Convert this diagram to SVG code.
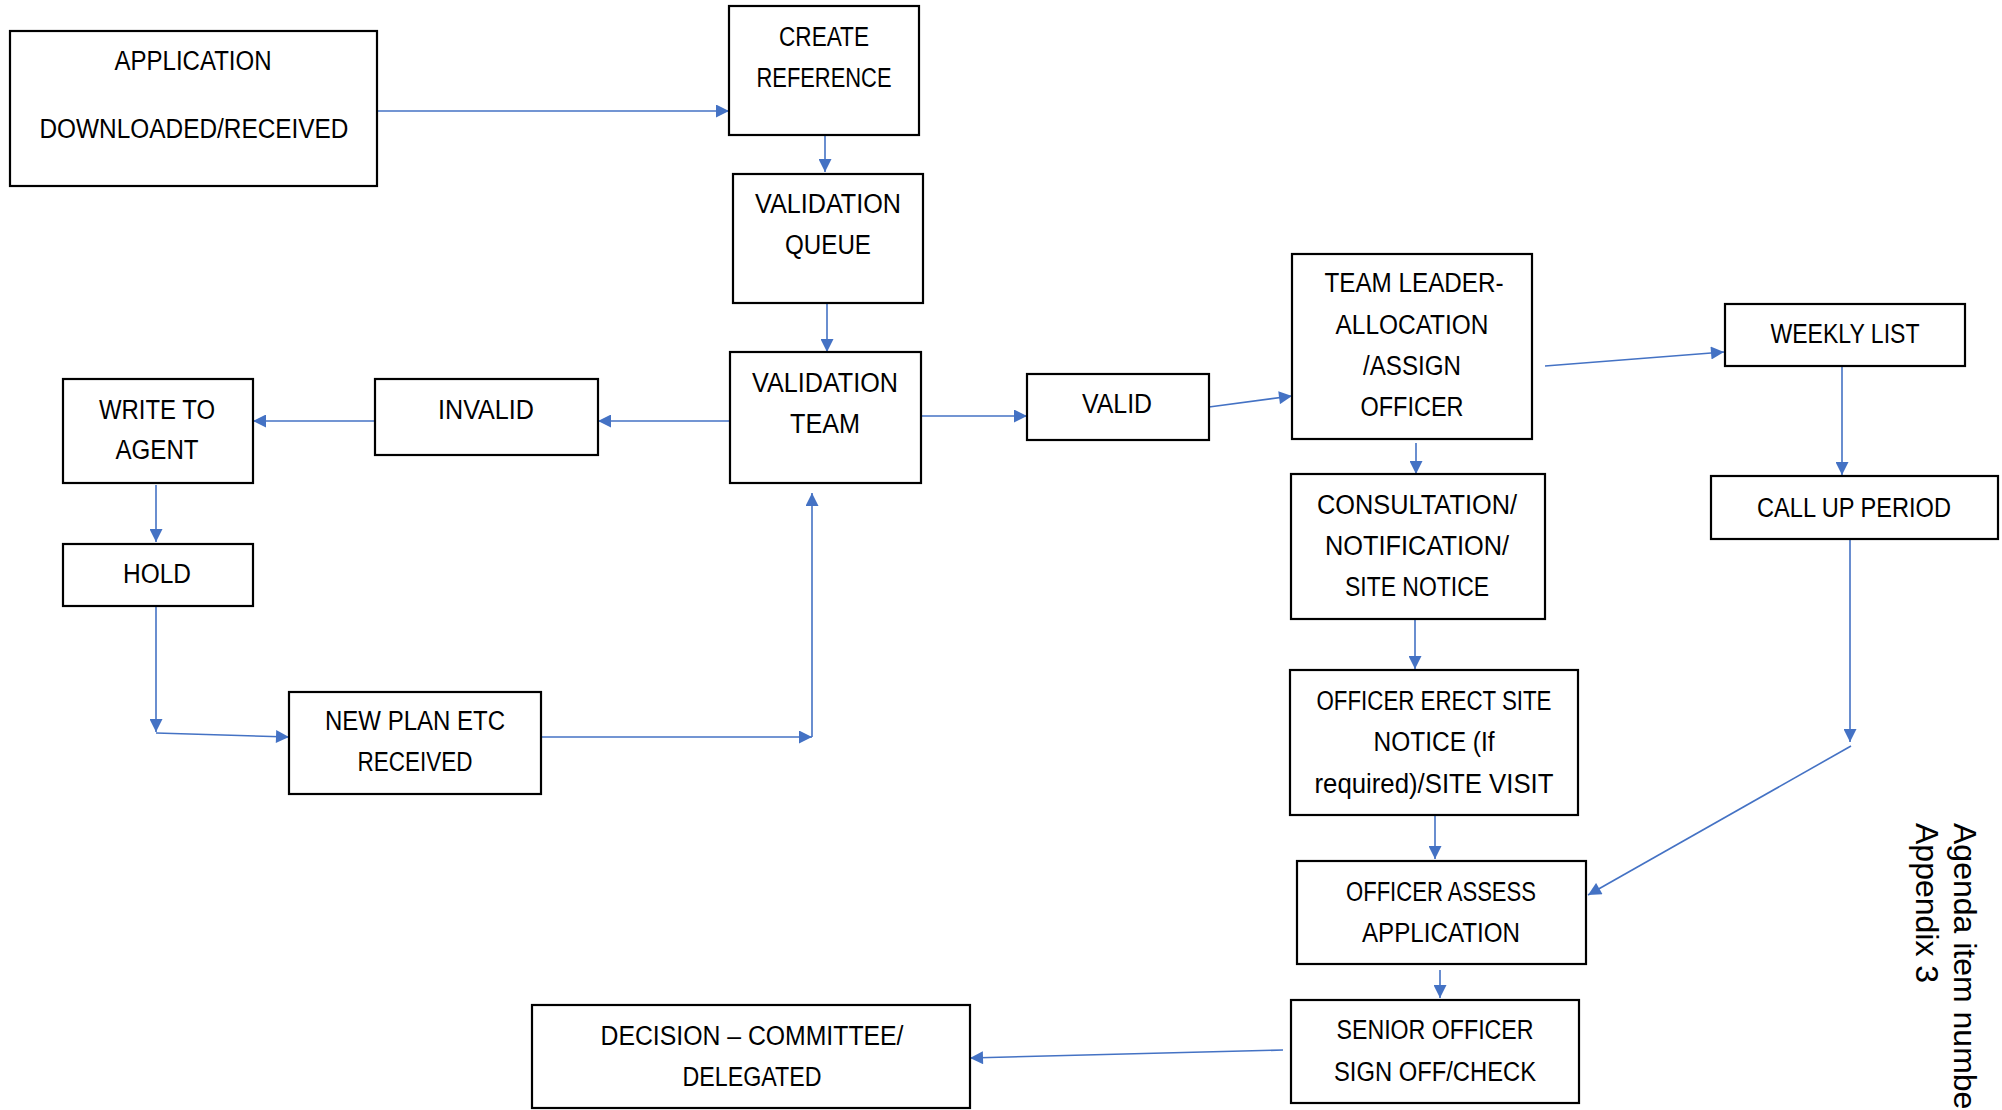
<svg xmlns="http://www.w3.org/2000/svg" width="2002" height="1110" viewBox="0 0 2002 1110">
<defs>
<marker id="ah" viewBox="0 0 10 10" refX="10" refY="5" markerWidth="15" markerHeight="13" markerUnits="userSpaceOnUse" orient="auto">
<path d="M0,0 L10,5 L0,10 z" fill="#4472C4"/>
</marker>
</defs>
<style>
.box{fill:#fff;stroke:#000;stroke-width:2.2}
.t{font-family:"Liberation Sans",Arial,sans-serif;font-size:27px;fill:#000;text-anchor:middle}
.c{fill:none;stroke:#4472C4;stroke-width:1.6;marker-end:url(#ah)}
.side{font-family:"Liberation Sans",Arial,sans-serif;font-size:32px;fill:#000}
</style>
<rect width="2002" height="1110" fill="#fff"/>
<g id="connectors">
<path class="c" d="M377,111 L729,111"/>
<path class="c" d="M825,135 L825,172"/>
<path class="c" d="M827,303 L827,352"/>
<path class="c" d="M730,421 L598,421"/>
<path class="c" d="M375,421 L253,421"/>
<path class="c" d="M156,485 L156,542"/>
<path class="c" d="M156,606 L156,732"/>
<path class="c" d="M156,733 L289,737"/>
<path class="c" d="M541,737 L812,737"/>
<path class="c" d="M812,737 L812,493"/>
<path class="c" d="M921,416 L1027,416"/>
<path class="c" d="M1209,407 L1292,396"/>
<path class="c" d="M1545,366 L1724,352"/>
<path class="c" d="M1842,360 L1842,475"/>
<path class="c" d="M1850,539 L1850,742"/>
<path class="c" d="M1851,746 L1588,895"/>
<path class="c" d="M1416,443 L1416,474"/>
<path class="c" d="M1415,619 L1415,669"/>
<path class="c" d="M1435,815 L1435,859"/>
<path class="c" d="M1440,970 L1440,998"/>
<path class="c" d="M1283,1050 L970,1058"/>
</g>
<g id="n-application"><rect class="box" x="10" y="31" width="367" height="155"/><text class="t" x="193" y="70" textLength="157" lengthAdjust="spacingAndGlyphs">APPLICATION</text><text class="t" x="194" y="138" textLength="309" lengthAdjust="spacingAndGlyphs">DOWNLOADED/RECEIVED</text></g>
<g id="n-create"><rect class="box" x="729" y="6" width="190" height="129"/><text class="t" x="824" y="46" textLength="90" lengthAdjust="spacingAndGlyphs">CREATE</text><text class="t" x="824" y="87" textLength="135" lengthAdjust="spacingAndGlyphs">REFERENCE</text></g>
<g id="n-vqueue"><rect class="box" x="733" y="174" width="190" height="129"/><text class="t" x="828" y="213" textLength="146" lengthAdjust="spacingAndGlyphs">VALIDATION</text><text class="t" x="828" y="254" textLength="86" lengthAdjust="spacingAndGlyphs">QUEUE</text></g>
<g id="n-vteam"><rect class="box" x="730" y="352" width="191" height="131"/><text class="t" x="825" y="392" textLength="146" lengthAdjust="spacingAndGlyphs">VALIDATION</text><text class="t" x="825" y="433" textLength="70" lengthAdjust="spacingAndGlyphs">TEAM</text></g>
<g id="n-invalid"><rect class="box" x="375" y="379" width="223" height="76"/><text class="t" x="486" y="419" textLength="96" lengthAdjust="spacingAndGlyphs">INVALID</text></g>
<g id="n-write"><rect class="box" x="63" y="379" width="190" height="104"/><text class="t" x="157" y="419" textLength="116" lengthAdjust="spacingAndGlyphs">WRITE TO</text><text class="t" x="157" y="459" textLength="83" lengthAdjust="spacingAndGlyphs">AGENT</text></g>
<g id="n-hold"><rect class="box" x="63" y="544" width="190" height="62"/><text class="t" x="157" y="583" textLength="68" lengthAdjust="spacingAndGlyphs">HOLD</text></g>
<g id="n-newplan"><rect class="box" x="289" y="692" width="252" height="102"/><text class="t" x="415" y="730" textLength="180" lengthAdjust="spacingAndGlyphs">NEW PLAN ETC</text><text class="t" x="415" y="771" textLength="115" lengthAdjust="spacingAndGlyphs">RECEIVED</text></g>
<g id="n-valid"><rect class="box" x="1027" y="374" width="182" height="66"/><text class="t" x="1117" y="413" textLength="70" lengthAdjust="spacingAndGlyphs">VALID</text></g>
<g id="n-teamleader"><rect class="box" x="1292" y="254" width="240" height="185"/><text class="t" x="1414" y="292" textLength="179" lengthAdjust="spacingAndGlyphs">TEAM LEADER-</text><text class="t" x="1412" y="334" textLength="153" lengthAdjust="spacingAndGlyphs">ALLOCATION</text><text class="t" x="1412" y="375" textLength="98" lengthAdjust="spacingAndGlyphs">/ASSIGN</text><text class="t" x="1412" y="416" textLength="103" lengthAdjust="spacingAndGlyphs">OFFICER</text></g>
<g id="n-weekly"><rect class="box" x="1725" y="304" width="240" height="62"/><text class="t" x="1845" y="343" textLength="149" lengthAdjust="spacingAndGlyphs">WEEKLY LIST</text></g>
<g id="n-callup"><rect class="box" x="1711" y="476" width="287" height="63"/><text class="t" x="1854" y="517" textLength="194" lengthAdjust="spacingAndGlyphs">CALL UP PERIOD</text></g>
<g id="n-consult"><rect class="box" x="1291" y="474" width="254" height="145"/><text class="t" x="1417" y="514" textLength="200" lengthAdjust="spacingAndGlyphs">CONSULTATION/</text><text class="t" x="1417" y="555" textLength="184" lengthAdjust="spacingAndGlyphs">NOTIFICATION/</text><text class="t" x="1417" y="596" textLength="144" lengthAdjust="spacingAndGlyphs">SITE NOTICE</text></g>
<g id="n-erect"><rect class="box" x="1290" y="670" width="288" height="145"/><text class="t" x="1434" y="710" textLength="235" lengthAdjust="spacingAndGlyphs">OFFICER ERECT SITE</text><text class="t" x="1434" y="751" textLength="121" lengthAdjust="spacingAndGlyphs">NOTICE (If</text><text class="t" x="1434" y="793" textLength="239" lengthAdjust="spacingAndGlyphs">required)/SITE VISIT</text></g>
<g id="n-assess"><rect class="box" x="1297" y="861" width="289" height="103"/><text class="t" x="1441" y="901" textLength="190" lengthAdjust="spacingAndGlyphs">OFFICER ASSESS</text><text class="t" x="1441" y="942" textLength="158" lengthAdjust="spacingAndGlyphs">APPLICATION</text></g>
<g id="n-senior"><rect class="box" x="1291" y="1000" width="288" height="103"/><text class="t" x="1435" y="1039" textLength="197" lengthAdjust="spacingAndGlyphs">SENIOR OFFICER</text><text class="t" x="1435" y="1081" textLength="202" lengthAdjust="spacingAndGlyphs">SIGN OFF/CHECK</text></g>
<g id="n-decision"><rect class="box" x="532" y="1005" width="438" height="103"/><text class="t" x="752" y="1045" textLength="303" lengthAdjust="spacingAndGlyphs">DECISION – COMMITTEE/</text><text class="t" x="752" y="1086" textLength="139" lengthAdjust="spacingAndGlyphs">DELEGATED</text></g>
<g id="side-note">
<text class="side" transform="translate(1954,823) rotate(90)">Agenda item numbe</text>
<text class="side" transform="translate(1916,823) rotate(90)">Appendix 3</text>
</g>
</svg>
